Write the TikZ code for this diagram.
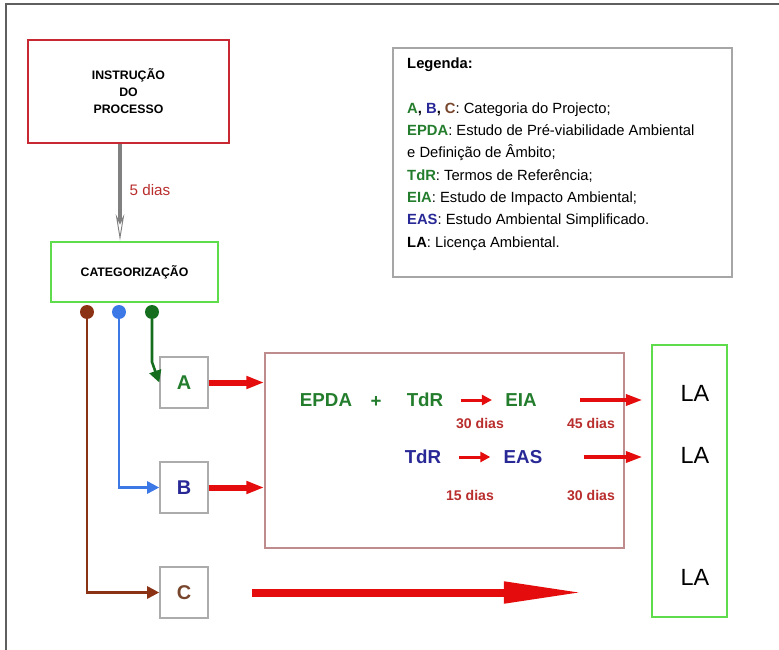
\documentclass[tikz,border=0pt]{standalone}
\usepackage{fontspec}
\setmainfont{Liberation Sans}
\usetikzlibrary{positioning,calc,arrows.meta}
\definecolor{boxred}{RGB}{200,40,50}
\definecolor{boxgreen}{RGB}{95,220,75}
\definecolor{arrred}{RGB}{228,12,12}
\definecolor{txtgreen}{RGB}{35,125,45}
\definecolor{txtblue}{RGB}{40,40,150}
\definecolor{txtbrown}{RGB}{120,70,45}
\definecolor{diasred}{RGB}{185,45,45}
\definecolor{dotbrown}{RGB}{140,50,20}
\definecolor{dotblue}{RGB}{60,120,230}
\definecolor{dotgreen}{RGB}{20,110,30}
\definecolor{procbox}{RGB}{190,140,140}
\definecolor{framegray}{RGB}{95,95,95}

\begin{document}
\begin{tikzpicture}[
    x=0.03cm, y=-0.03cm,
    gbox/.style={draw=boxgreen, line width=2.4pt},
    cbox/.style={draw=gray!65, line width=1.3pt, minimum width=1.44cm, minimum height=1.53cm,
                 font=\fontsize{17}{20}\selectfont\bfseries},
    big/.style={font=\fontsize{16}{19}\selectfont\bfseries, inner sep=1pt},
    dias/.style={font=\fontsize{12}{14}\selectfont\bfseries, text=diasred},
    la/.style={font=\fontsize{20}{24}\selectfont},
    dot/.style={circle, inner sep=0pt, minimum size=0.42cm},
    catline/.style={line width=2.2pt, -{Triangle[length=3.6mm, width=3.6mm]}},
    redarr/.style={arrred, line width=1.8mm, -{Triangle[length=5.4mm, width=3.6mm]}},
    smallarr/.style={arrred, line width=0.9mm, -{Triangle[length=3mm, width=3mm]},
                     shorten <=0.48cm, shorten >=0.36cm},
    laarr/.style={arrred, line width=1.2mm, -{Triangle[length=5mm, width=3.2mm]},
                  shorten <=1.25cm, shorten >=0.24cm},
  ]
    \useasboundingbox (0,0) rectangle (779,650);
    \draw[framegray, line width=1.6pt] (779,4) -- (6,4) -- (6,650);

    \node[draw=boxred, line width=2.4pt, minimum width=6.03cm, minimum height=3.09cm,
          align=center, font=\fontsize{10.5}{14.5}\selectfont\bfseries]
          (inst) at (128.5,91.5) {INSTRUÇÃO\\DO\\PROCESSO};
    \node[gbox, minimum width=5.01cm, minimum height=1.8cm,
          font=\fontsize{10.5}{12}\selectfont\bfseries] (cat) at (134.5,272) {CATEGORIZAÇÃO};
    \node[font=\fontsize{13}{15}\selectfont, text=diasred] (d5) at (150,190) {5 dias};

    \node[dot, fill=dotbrown] (dC) at (87,312) {};
    \node[dot, fill=dotblue]  (dB) at (119,312) {};
    \node[dot, fill=dotgreen] (dA) at (152,312) {};

    \node[cbox, text=txtgreen] (A) at (184,382.5) {A};
    \node[cbox, text=txtblue]  (B) at (184,487.5) {B};
    \node[cbox, text=txtbrown] (C) at (184,592.5) {C};

    \node[draw=procbox, line width=1.2pt, minimum width=10.77cm, minimum height=5.85cm]
          (proc) at (444.5,450.5) {};
    \node[gbox, minimum width=2.25cm, minimum height=8.16cm] (labox) at (689.5,481) {};

    \node[big, text=txtgreen] (epda) at (326,400) {EPDA};
    \node[big, text=txtgreen] (plus) at (376,402) {+};
    \node[big, text=txtgreen] (tdrA) at (425,400) {TdR};
    \node[big, text=txtgreen] (eia)  at (521,400) {EIA};
    \node[big, text=txtblue]  (tdrB) at (423,457) {TdR};
    \node[big, text=txtblue]  (eas)  at (523,457) {EAS};
    \node[dias] (d30a) at (480,423) {30 dias};
    \node[dias] (d45)  at (591,423) {45 dias};
    \node[dias] (d15)  at (470,495) {15 dias};
    \node[dias] (d30b) at (591,495) {30 dias};
    \node[la] (la1) at (695,393) {LA};
    \node[la] (la2) at (695,455) {LA};
    \node[la] (la3) at (695,577) {LA};

    \node[draw=gray!70, line width=1.2pt, minimum width=10.17cm, minimum height=6.87cm]
          (leg) at (562.5,162.5) {};
    \node[anchor=north west, align=left, inner sep=0pt, font=\fontsize{12.6}{19}\selectfont]
          (legtxt) at (407,58) {\textbf{Legenda:}\\[19pt]
      \textbf{\textcolor{txtgreen}{A}, \textcolor{txtblue}{B}, \textcolor{txtbrown}{C}}: Categoria do Projecto;\\
      \textbf{\textcolor{txtgreen}{EPDA}}: Estudo de Pré-viabilidade Ambiental\\
      e Definição de Âmbito;\\
      \textbf{\textcolor{txtgreen}{TdR}}: Termos de Referência;\\
      \textbf{\textcolor{txtgreen}{EIA}}: Estudo de Impacto Ambiental;\\
      \textbf{\textcolor{txtblue}{EAS}}: Estudo Ambiental Simplificado.\\
      \textbf{LA}: Licença Ambiental.};

    \draw[gray, line width=2.6pt, -{Stealth[open, length=8mm, width=2.6mm, line width=0.8pt, fill=white]}]
      ($(inst.south)+(-8.5,0)$) -- ($(cat.north)+(-14.5,0)$);

    \draw[catline, dotbrown] (dC) |- (C);
    \draw[catline, dotblue] (dB) |- (B);
    \draw[catline, dotgreen] (dA) -- ++(0,50) -- (A.west);

    \draw[redarr] (A) -- (A -| proc.west);
    \draw[redarr] (B) -- (B -| proc.west);
    \draw[smallarr] (tdrA) -- (eia);
    \draw[smallarr] (tdrB) -- (eas);
    \draw[laarr] (eia) -- (eia -| labox.west);
    \draw[laarr, shorten <=1.2cm] (eas) -- (eas -| labox.west);
    \draw[arrred, line width=2.4mm, -{Triangle[length=24mm, width=6mm]},
          shorten <=1.3cm, shorten >=2cm] (C) -- (C -| labox.west);
\end{tikzpicture}
\end{document}
